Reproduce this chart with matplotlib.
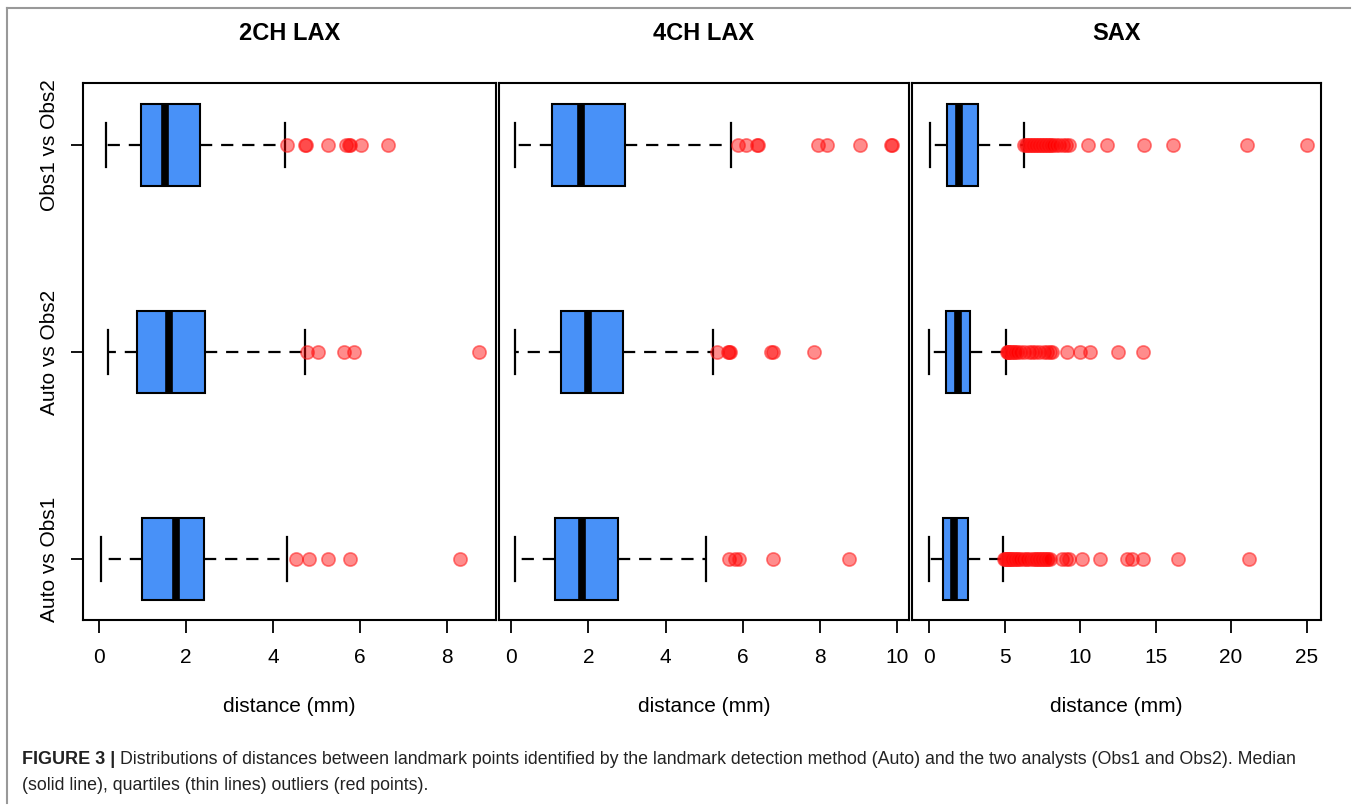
import matplotlib
matplotlib.use("Agg")
import matplotlib.pyplot as plt
from matplotlib.lines import Line2D

plt.rcParams["font.family"] = ["Liberation Sans", "DejaVu Sans"]

GROUPS = ["Auto vs Obs1", "Auto vs Obs2", "Obs1 vs Obs2"]   # bottom -> top
PANELS = ["2CH LAX", "4CH LAX", "SAX"]

# 2CH LAX
lax2_whislo = [0.05, 0.20, 0.15]
lax2_q1 = [0.99, 0.88, 0.96]
lax2_med = [1.76, 1.61, 1.52]
lax2_q3 = [2.41, 2.43, 2.31]
lax2_whishi = [4.32, 4.74, 4.28]
lax2_fliers = [
    [4.54, 4.83, 5.26, 5.77, 8.31],
    [4.79, 5.03, 5.64, 5.86, 8.74],
    [4.33, 4.73, 4.76, 5.26, 5.69, 5.75, 5.78, 6.02, 6.64],
]

# 4CH LAX
lax4_whislo = [0.10, 0.10, 0.10]
lax4_q1 = [1.15, 1.29, 1.05]
lax4_med = [1.85, 2.00, 1.81]
lax4_q3 = [2.78, 2.89, 2.96]
lax4_whishi = [5.04, 5.22, 5.70]
lax4_fliers = [
    [5.64, 5.79, 5.89, 6.78, 8.76],
    [5.33, 5.62, 5.65, 5.68, 6.74, 6.77, 7.85],
    [5.87, 6.08, 6.36, 6.39, 7.94, 8.19, 9.02, 9.83, 9.87],
]

# SAX
sax_whislo = [0.02, 0.02, 0.05]
sax_q1 = [0.95, 1.10, 1.19]
sax_med = [1.68, 1.90, 1.99]
sax_q3 = [2.58, 2.74, 3.27]
sax_whishi = [4.92, 5.12, 6.29]
sax_fliers = [
    [4.98, 5.02, 5.1, 5.15, 5.2, 5.3, 5.35, 5.4, 5.5, 5.6, 5.7, 5.8, 5.9,
     6.0, 6.2, 6.4, 6.5, 6.7, 6.9, 7.0, 7.1, 7.2, 7.3, 7.4, 7.5, 7.6, 7.7,
     7.8, 7.9, 8.0, 8.79, 9.1, 9.29, 10.15, 11.3, 13.09, 13.42, 14.2,
     16.5, 21.2],
    [5.15, 5.2, 5.25, 5.3, 5.4, 5.5, 5.6, 5.7, 5.8, 6.0, 6.3, 6.6, 6.8,
     7.0, 7.3, 7.6, 7.8, 8.0, 8.15, 9.12, 10.0, 10.66, 12.54, 14.15],
    [6.32, 6.4, 6.5, 6.6, 6.7, 6.8, 6.9, 7.0, 7.1, 7.2, 7.3, 7.4, 7.5, 7.6,
     7.7, 7.8, 7.9, 8.0, 8.1, 8.2, 8.4, 8.6, 8.9, 9.1, 9.3, 10.54, 11.81,
     14.24, 16.14, 21.08, 25.0],
]

PANEL_DATA = [
    (lax2_whislo, lax2_q1, lax2_med, lax2_q3, lax2_whishi, lax2_fliers),
    (lax4_whislo, lax4_q1, lax4_med, lax4_q3, lax4_whishi, lax4_fliers),
    (sax_whislo, sax_q1, sax_med, sax_q3, sax_whishi, sax_fliers),
]
XLIMS = [(-0.37, 9.13), (-0.31, 10.3), (-1.13, 25.96)]
XTICKS = [range(0, 9, 2), range(0, 11, 2), range(0, 26, 5)]

BOX_BLUE = "#4891F8"
W, H = 1357, 806

fig = plt.figure(figsize=(W / 100, H / 100), dpi=100)
lefts = [83, 499, 912]
rights = [496, 909, 1321]
top_px, bot_px = 83, 620

for i, (name, data) in enumerate(zip(PANELS, PANEL_DATA)):
    ax = fig.add_axes([lefts[i] / W, 1 - bot_px / H,
                       (rights[i] - lefts[i]) / W, (bot_px - top_px) / H])
    wlo, q1, med, q3, whi, fl = data
    stats = [dict(whislo=wlo[k], q1=q1[k], med=med[k], q3=q3[k],
                  whishi=whi[k], fliers=fl[k], label=GROUPS[k])
             for k in range(len(GROUPS))]
    ax.bxp(stats, positions=[1, 2, 3], widths=0.4, capwidths=0.21,
           orientation="horizontal", patch_artist=True,
           boxprops=dict(facecolor=BOX_BLUE, edgecolor="black", lw=1.5),
           medianprops=dict(color="black", lw=5.5, solid_capstyle="butt"),
           whiskerprops=dict(color="black", lw=1.6, linestyle=(0, (5.5, 4))),
           capprops=dict(color="black", lw=1.6),
           flierprops=dict(marker="o", markersize=9.5,
                           markerfacecolor=(1, 0, 0, 0.45),
                           markeredgecolor=(1, 0.1, 0.1, 0.55),
                           markeredgewidth=1.2, linestyle="none"))
    ax.set_xlim(*XLIMS[i])
    ax.set_ylim(0.705, 3.3)
    ax.set_xticks(list(XTICKS[i]))
    ax.tick_params(axis="x", length=9, width=1.3, labelsize=15, pad=11)
    if i == 0:
        ax.set_yticks([1, 2, 3])
        ax.set_yticklabels(GROUPS, rotation=90, va="center")
        ax.tick_params(axis="y", length=9, width=1.3, labelsize=15, pad=8)
    else:
        ax.set_yticks([])
    for sp in ax.spines.values():
        sp.set_linewidth(1.5)
    ax.set_xlabel("distance (mm)", fontsize=15, labelpad=22)
    cx = (lefts[i] + rights[i]) / 2 / W
    fig.text(cx, 1 - 33 / H, name, ha="center", va="center",
             fontsize=17, fontweight="bold")

# outer frame (top and left edges)
fig.add_artist(Line2D([7 / W, 1350 / W], [1 - 8 / H, 1 - 8 / H],
                      color="#999999", lw=1.5))
fig.add_artist(Line2D([7 / W, 7 / W], [1 - 8 / H, 1 - 803 / H],
                      color="#999999", lw=1.5))

# caption
x0 = 22 / W
bold = fig.text(x0, 1 - 760 / H, "FIGURE 3 |", fontsize=13,
                fontweight="bold", va="center", color="#222222")
fig.canvas.draw()
bb = bold.get_window_extent(renderer=fig.canvas.get_renderer())
fig.text(bb.x1 / W + 5 / W, 1 - 760 / H,
         "Distributions of distances between landmark points identified by the "
         "landmark detection method (Auto) and the two analysts (Obs1 and Obs2). Median",
         fontsize=12.75, va="center", color="#222222")
fig.text(x0, 1 - 785 / H, "(solid line), quartiles (thin lines) outliers (red points).",
         fontsize=12.75, va="center", color="#222222")

fig.savefig("out.png", dpi=100)
